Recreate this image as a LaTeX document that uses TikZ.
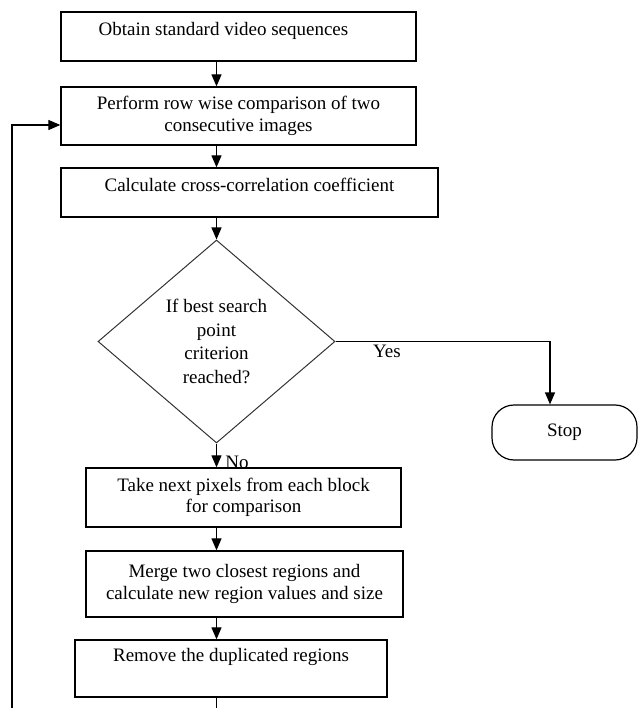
\documentclass[tikz,border=0pt]{standalone}
\usepackage{fontspec}
\setmainfont{Liberation Serif}
\usepackage{tikz}
\usetikzlibrary{shapes.geometric, arrows.meta, positioning}
\tikzset{
    process/.style = {rectangle, draw=black, line width=1.3pt, inner sep=0pt, align=center, font=\fontsize{19}{21.5}\selectfont},
    decision/.style = {diamond, draw=black!80, line width=1pt, inner sep=0pt, minimum width=237pt, minimum height=203pt, align=center, font=\fontsize{19}{23.5}\selectfont},
    terminal/.style = {rectangle, rounded corners=22pt, draw=black, line width=1.2pt, minimum width=145pt, minimum height=55pt, font=\fontsize{19}{21.5}\selectfont},
    arrow/.style = {line width=1.2pt, -{Triangle[length=12pt, width=10pt]}}
}
\begin{document}
\begin{tikzpicture}[x=1pt, y=-1pt, font=\fontsize{19}{21.5}\selectfont]
\useasboundingbox (0,0) rectangle (638,708);

\coordinate (spine) at (216.5,0);
\coordinate (loop) at (12,709);

\node (obtain) [process, minimum width=355pt, minimum height=49pt, text height=13pt, text depth=14pt] at (238.5,36.5) {Obtain standard video sequences\hspace{30pt}};
\node (compare) [process, minimum width=355pt, minimum height=58pt] at (238.5,116) {Perform row wise comparison of two\\consecutive images};
\node (correlate) [process, minimum width=377pt, minimum height=49pt, text height=13pt, text depth=15pt] at (249.5,192.5) {Calculate cross-correlation coefficient};
\node (check) [decision] at (216.5,341.5) {If best search\\point\\criterion\\reached?};
\node (stop) [terminal] at (564.5,432.5) {Stop};
\node (nextpix) [process, minimum width=315pt, minimum height=59pt] at (243.5,497.5) {Take next pixels from each block\\for comparison};
\node (merge) [process, minimum width=317pt, minimum height=66pt] at (244.5,584) {Merge two closest regions and\\calculate new region values and size};
\node (remove) [process, minimum width=312pt, minimum height=57pt, text height=13pt, text depth=27pt] at (231,668.5) {Remove the duplicated regions};

\draw [arrow] (obtain.south -| spine) -- (compare.north -| spine);
\draw [arrow] (compare.south -| spine) -- (correlate.north -| spine);
\draw [arrow] (correlate.south -| spine) -- (check.north);
\draw [arrow] (check.east) -| node[below, pos=0.12] {Yes} ([xshift=-14.5pt]stop.north);
\draw [arrow] (check.south) -- node[right, pos=0.8, xshift=5pt] {No} (nextpix.north -| spine);
\draw [arrow] (nextpix.south -| spine) -- (merge.north -| spine);
\draw [arrow] (merge.south -| spine) -- (remove.north -| spine);
\draw [arrow] (remove.south -| spine) -- (loop -| spine) -- (loop) |- ([yshift=-9pt]compare.west);
\end{tikzpicture}
\end{document}
